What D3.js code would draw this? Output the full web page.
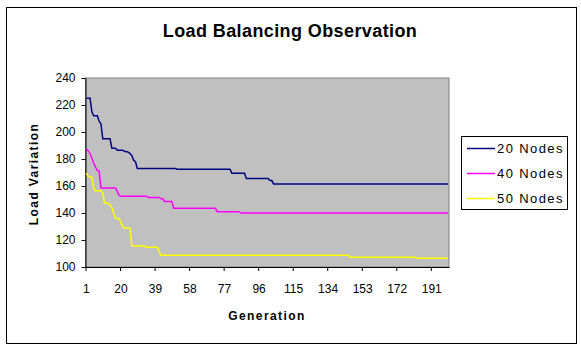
<!DOCTYPE html>
<html>
<head>
<meta charset="utf-8">
<script src="https://cdn.jsdelivr.net/npm/d3@7"></script>
<style>
  body { margin: 0; background: #fff; }
  svg { display: block; font-family: Arial, "Liberation Sans", sans-serif; }
</style>
</head>
<body>
<figure id="chart" style="margin:0"></figure>
<script>
// values, one per generation (1..200)
const seriesNames = ["20 Nodes", "40 Nodes", "50 Nodes"];
const seriesColors = ["#000080", "#ff00ff", "#ffff00"];

const nodes20 = [
  225, 225, 225, 215, 212, 212, 212, 208, 206, 195,
  195, 195, 195, 195, 188, 188, 188, 186.5, 186.5, 186.5,
  186.5, 185.5, 185.5, 185, 184, 182.5, 179, 178, 173, 173,
  173, 173, 173, 173, 173, 173, 173, 173, 173, 173,
  173, 173, 173, 173, 173, 173, 173, 173, 173, 173,
  172.5, 172.5, 172.5, 172.5, 172.5, 172.5, 172.5, 172.5, 172.5, 172.5,
  172.5, 172.5, 172.5, 172.5, 172.5, 172.5, 172.5, 172.5, 172.5, 172.5,
  172.5, 172.5, 172.5, 172.5, 172.5, 172.5, 172.5, 172.5, 172.5, 172.5,
  169.5, 169.5, 169.5, 169.5, 169.5, 169.5, 169.5, 169.5, 165.5, 165.5,
  165.5, 165.5, 165.5, 165.5, 165.5, 165.5, 165.5, 165.5, 165.5, 165.5,
  165.5, 164, 164, 161.5, 161.5, 161.5, 161.5, 161.5, 161.5, 161.5,
  161.5, 161.5, 161.5, 161.5, 161.5, 161.5, 161.5, 161.5, 161.5, 161.5,
  161.5, 161.5, 161.5, 161.5, 161.5, 161.5, 161.5, 161.5, 161.5, 161.5,
  161.5, 161.5, 161.5, 161.5, 161.5, 161.5, 161.5, 161.5, 161.5, 161.5,
  161.5, 161.5, 161.5, 161.5, 161.5, 161.5, 161.5, 161.5, 161.5, 161.5,
  161.5, 161.5, 161.5, 161.5, 161.5, 161.5, 161.5, 161.5, 161.5, 161.5,
  161.5, 161.5, 161.5, 161.5, 161.5, 161.5, 161.5, 161.5, 161.5, 161.5,
  161.5, 161.5, 161.5, 161.5, 161.5, 161.5, 161.5, 161.5, 161.5, 161.5,
  161.5, 161.5, 161.5, 161.5, 161.5, 161.5, 161.5, 161.5, 161.5, 161.5,
  161.5, 161.5, 161.5, 161.5, 161.5, 161.5, 161.5, 161.5, 161.5, 161.5
];

const nodes40 = [
  187.5, 186, 184, 180.5, 177, 174, 171.5, 171, 158.5, 158.5,
  158.5, 158.5, 158.5, 158.5, 158.5, 158.5, 158.5, 156, 153, 152.5,
  152.5, 152.5, 152.5, 152.5, 152.5, 152.5, 152.5, 152.5, 152.5, 152.5,
  152.5, 152.5, 152.5, 152.5, 151.5, 151.5, 151.5, 151.5, 151.5, 151.5,
  151.5, 150.5, 150.5, 148.5, 148.5, 148.5, 148.5, 148.5, 143.5, 143.5,
  143.5, 143.5, 143.5, 143.5, 143.5, 143.5, 143.5, 143.5, 143.5, 143.5,
  143.5, 143.5, 143.5, 143.5, 143.5, 143.5, 143.5, 143.5, 143.5, 143.5,
  143.5, 143.5, 141, 141, 141, 141, 141, 141, 141, 141,
  141, 141, 141, 141, 141, 140, 140, 140, 140, 140,
  140, 140, 140, 140, 140, 140, 140, 140, 140, 140,
  140, 140, 140, 140, 140, 140, 140, 140, 140, 140,
  140, 140, 140, 140, 140, 140, 140, 140, 140, 140,
  140, 140, 140, 140, 140, 140, 140, 140, 140, 140,
  140, 140, 140, 140, 140, 140, 140, 140, 140, 140,
  140, 140, 140, 140, 140, 140, 140, 140, 140, 140,
  140, 140, 140, 140, 140, 140, 140, 140, 140, 140,
  140, 140, 140, 140, 140, 140, 140, 140, 140, 140,
  140, 140, 140, 140, 140, 140, 140, 140, 140, 140,
  140, 140, 140, 140, 140, 140, 140, 140, 140, 140,
  140, 140, 140, 140, 140, 140, 140, 140, 140, 140
];

const nodes50 = [
  169.5, 167, 167, 166.5, 158, 156.5, 156.5, 156.5, 156.5, 155,
  147.5, 147.5, 147, 146, 144, 140, 136, 136, 136, 133,
  130, 128.7, 128.7, 128.7, 128.7, 115.5, 115.5, 115.5, 115.5, 115.5,
  115.5, 115.5, 115.5, 114.6, 114.6, 114.6, 114.6, 114.6, 114.6, 114.6,
  112, 108.7, 108.7, 108.7, 108.7, 108.7, 108.7, 108.7, 108.7, 108.7,
  108.7, 108.7, 108.7, 108.7, 108.7, 108.7, 108.7, 108.7, 108.7, 108.7,
  108.7, 108.7, 108.7, 108.7, 108.7, 108.7, 108.7, 108.7, 108.7, 108.7,
  108.7, 108.7, 108.7, 108.7, 108.7, 108.7, 108.7, 108.7, 108.7, 108.7,
  108.7, 108.7, 108.7, 108.7, 108.7, 108.7, 108.7, 108.7, 108.7, 108.7,
  108.7, 108.7, 108.7, 108.7, 108.7, 108.7, 108.7, 108.7, 108.7, 108.7,
  108.7, 108.7, 108.7, 108.7, 108.7, 108.7, 108.7, 108.7, 108.7, 108.7,
  108.7, 108.7, 108.7, 108.7, 108.7, 108.7, 108.7, 108.7, 108.7, 108.7,
  108.7, 108.7, 108.7, 108.7, 108.7, 108.7, 108.7, 108.7, 108.7, 108.7,
  108.7, 108.7, 108.7, 108.7, 108.7, 108.7, 108.7, 108.7, 108.7, 108.7,
  108.7, 108.7, 108.7, 108.7, 108.7, 107.2, 107.2, 107.2, 107.2, 107.2,
  107.2, 107.2, 107.2, 107.2, 107.2, 107.2, 107.2, 107.2, 107.2, 107.2,
  107.2, 107.2, 107.2, 107.2, 107.2, 107.2, 107.2, 107.2, 107.2, 107.2,
  107.2, 107.2, 107.2, 107.2, 107.2, 107.2, 107.2, 107.2, 107.2, 107.2,
  107.2, 107.2, 106.4, 106.4, 106.4, 106.4, 106.4, 106.4, 106.4, 106.4,
  106.4, 106.4, 106.4, 106.4, 106.4, 106.4, 106.4, 106.4, 106.4, 106.4
];

const generations = d3.range(1, nodes20.length + 1);
const xTickLabels = [1, 20, 39, 58, 77, 96, 115, 134, 153, 172, 191];
const yTicks = [100, 120, 140, 160, 180, 200, 220, 240];

const width = 581, height = 351;
const plot = { left: 85.5, top: 78, right: 449, bottom: 267 };

const svg = d3.select("#chart").append("svg")
  .attr("width", width)
  .attr("height", height);

// chart area frame
svg.append("rect")
  .attr("x", 6.5).attr("y", 7.5)
  .attr("width", 570).attr("height", 336)
  .attr("fill", "#fff")
  .attr("stroke", "#000");

svg.append("text")
  .attr("x", 290).attr("y", 37)
  .attr("text-anchor", "middle")
  .attr("font-size", 18)
  .attr("font-weight", "bold")
  .attr("letter-spacing", 0.4)
  .text("Load Balancing Observation");

// plot area
svg.append("rect")
  .attr("x", plot.left).attr("y", plot.top)
  .attr("width", plot.right - plot.left)
  .attr("height", plot.bottom - plot.top)
  .attr("fill", "#c0c0c0")
  .attr("stroke", "#808080");

const xScale = d3.scaleBand()
  .domain(generations)
  .range([plot.left, plot.right])
  .padding(0);
const xEdge = d3.scaleLinear()
  .domain([0, generations.length])
  .range([plot.left, plot.right]);
const yScale = d3.scaleLinear()
  .domain([100, 240])
  .range([plot.bottom, plot.top]);

// y axis
const yAxis = svg.append("g")
  .attr("transform", "translate(" + plot.left + ",0)")
  .call(d3.axisLeft(yScale)
    .tickValues(yTicks)
    .tickSizeOuter(0)
    .tickSizeInner(4)
    .tickPadding(6));
yAxis.select(".domain").attr("stroke", "#000");
yAxis.selectAll(".tick text")
  .attr("font-size", 12)
  .attr("font-family", "Arial, sans-serif")
  .attr("fill", "#000");

// x axis: tick marks between categories, labels on category centres
const xMarks = svg.append("g")
  .attr("transform", "translate(0," + plot.bottom + ")")
  .call(d3.axisBottom(xEdge)
    .tickValues(d3.range(0, generations.length, 19))
    .tickSizeOuter(0)
    .tickSizeInner(4)
    .tickFormat(""));
xMarks.select(".domain").attr("stroke", "#000");

const xLabels = svg.append("g")
  .attr("transform", "translate(0," + plot.bottom + ")")
  .call(d3.axisBottom(xScale)
    .tickValues(xTickLabels)
    .tickSize(0)
    .tickPadding(17));
xLabels.select(".domain").remove();
xLabels.selectAll(".tick text")
  .attr("font-size", 12)
  .attr("font-family", "Arial, sans-serif")
  .attr("fill", "#000");

// axis titles
svg.append("text")
  .attr("x", 267).attr("y", 320)
  .attr("text-anchor", "middle")
  .attr("font-size", 12)
  .attr("font-weight", "bold")
  .attr("letter-spacing", 1.4)
  .text("Generation");

svg.append("text")
  .attr("transform", "translate(38,174) rotate(-90)")
  .attr("text-anchor", "middle")
  .attr("font-size", 12)
  .attr("font-weight", "bold")
  .attr("letter-spacing", 1.4)
  .text("Load Variation");

// lines
const allSeries = [nodes20, nodes40, nodes50];
const line = d3.line()
  .x((d, i) => xScale(generations[i]) + xScale.bandwidth() / 2)
  .y(d => yScale(d));

svg.append("g")
  .selectAll("path")
  .data(allSeries)
  .join("path")
  .attr("d", line)
  .attr("fill", "none")
  .attr("stroke", (d, i) => seriesColors[i])
  .attr("stroke-width", 1.5);

// legend
const legend = svg.append("g");
legend.append("rect")
  .attr("x", 461.5).attr("y", 136.5)
  .attr("width", 106).attr("height", 73)
  .attr("fill", "#fff")
  .attr("stroke", "#000");

const items = legend.selectAll(".item")
  .data(seriesNames)
  .join("g")
  .attr("class", "item")
  .attr("transform", (d, i) => "translate(0," + (148.5 + i * 25) + ")");
items.append("line")
  .attr("x1", 467).attr("x2", 495)
  .attr("stroke", (d, i) => seriesColors[i])
  .attr("stroke-width", 1.5);
items.append("text")
  .attr("x", 497).attr("y", 4.5)
  .attr("font-size", 13)
  .attr("letter-spacing", 1.4)
  .text(d => d);
</script>
</body>
</html>
